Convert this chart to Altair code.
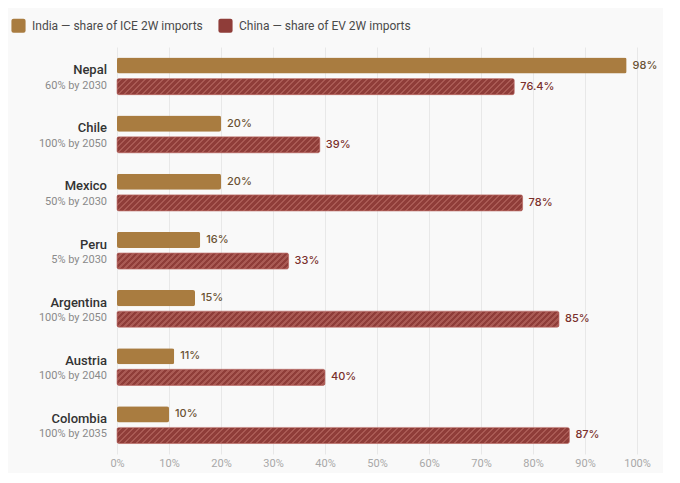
import altair as alt
import pandas as pd

# ---- data ----
countries = ["Nepal", "Chile", "Mexico", "Peru", "Argentina", "Austria", "Colombia"]
targets = ["60% by 2030", "100% by 2050", "50% by 2030", "5% by 2030",
           "100% by 2050", "100% by 2040", "100% by 2035"]
india_share = [98, 20, 20, 16, 15, 11, 10]
china_share = [76.4, 39, 78, 33, 85, 40, 87]
india_labels = ["98%", "20%", "20%", "16%", "15%", "11%", "10%"]
china_labels = ["76.4%", "39%", "78%", "33%", "85%", "40%", "87%"]
x_ticks = [0, 10, 20, 30, 40, 50, 60, 70, 80, 90, 100]

INDIA = "India — share of ICE 2W imports"
CHINA = "China — share of EV 2W imports"

# ---- style ----
FONT = "Roboto"
VFONT = "Inter"
GOLD = "#a97c40"
RED = "#8f3d39"
RED_LIGHT = "#a95a54"
W, H = 520, 407
BAR_H = 16.1
PX_PER_UNIT = W / 100.0


def hatch(value, period=6.0, light=0.4):
    """Diagonal stripe fill built from a linear gradient (per bar)."""
    w = max(value * PX_PER_UNIT, 1.0)
    h = BAR_H
    total = w + h
    k = total / (w * (1 + (h / w) ** 2))
    stops = []
    pos = 0.0
    while pos < total:
        a = pos / total
        b = min((pos + period * (1 - light)) / total, 1.0)
        c = min((pos + period) / total, 1.0)
        stops += [{"offset": a, "color": RED}, {"offset": b, "color": RED},
                  {"offset": b, "color": RED_LIGHT}, {"offset": c, "color": RED_LIGHT}]
        pos += period
    return {"gradient": "linear", "x1": 0, "y1": 0, "x2": k, "y2": k * h / w,
            "stops": stops}


rows = []
for c, t, iv, cv, il, cl in zip(countries, targets, india_share, china_share,
                                india_labels, china_labels):
    rows.append({"country": c, "target": t, "series": INDIA, "value": iv, "label": il})
    rows.append({"country": c, "target": t, "series": CHINA, "value": cv, "label": cl})
df = pd.DataFrame(rows)
names = pd.DataFrame({"country": countries, "target": targets})

y_enc = alt.Y("country:N", sort=countries, axis=None,
              scale=alt.Scale(paddingInner=0.36, paddingOuter=0.18))
yoff = alt.YOffset("series:N", sort=[INDIA, CHINA],
                   scale=alt.Scale(domain=[INDIA, CHINA], paddingInner=0.237, paddingOuter=0))
x_enc = alt.X("value:Q",
              scale=alt.Scale(domain=[0, 100], nice=False),
              axis=alt.Axis(values=x_ticks, labelExpr="datum.value + '%'", title=None,
                            domain=False, ticks=False, labelPadding=3, labelFlush=False,
                            labelColor="#a8a8a8", labelFontSize=11, labelFont=FONT,
                            grid=True, gridColor="#e8e8e8", gridWidth=1))

base = alt.Chart(df)

bars = base.mark_bar(cornerRadius=2).encode(
    x=x_enc,
    y=y_enc,
    yOffset=yoff,
    color=alt.Color("series:N",
                    scale=alt.Scale(domain=[INDIA, CHINA], range=[GOLD, RED]),
                    legend=alt.Legend(
                        title=None, orient="none", legendX=-106, legendY=-29,
                        direction="horizontal", labelLimit=0,
                        symbolType="M-0.7,-1L0.7,-1Q1,-1 1,-0.7L1,0.7Q1,1 0.7,1L-0.7,1Q-1,1 -1,0.7L-1,-0.7Q-1,-1 -0.7,-1Z",
                        symbolSize=200, symbolStrokeWidth=0, symbolOpacity=1,
                        labelFont=FONT, labelFontSize=12, labelColor="#4a4a4a",
                        labelOffset=6, columnPadding=15)),
)

conds = [{"test": f"datum.country === '{c}'", "value": hatch(v)}
         for c, v in zip(countries, china_share)]
china_bars = base.transform_filter(alt.datum.series == CHINA).mark_bar(
    cornerRadius=2, stroke="#b86a64", strokeWidth=0.6
).encode(
    x="value:Q",
    y=y_enc,
    yOffset=yoff,
    fill={"condition": conds, "value": RED},
)

value_text = base.mark_text(align="left", baseline="middle", dx=6,
                            font=VFONT, fontSize=11, fontWeight=500).encode(
    x="value:Q",
    y=y_enc,
    yOffset=yoff,
    text="label:N",
    color=alt.condition(alt.datum.series == INDIA, alt.value("#6a5233"), alt.value("#7a302c")),
)

name_text = alt.Chart(names).mark_text(align="right", baseline="middle", dy=-6,
                                       font=FONT, fontSize=13, fontWeight=500,
                                       color="#333333").encode(
    y=y_enc, x=alt.value(-10), text="country:N")

target_text = alt.Chart(names).mark_text(align="right", baseline="middle", dy=9.5,
                                         font=FONT, fontSize=11, color="#8a8a8a").encode(
    y=y_enc, x=alt.value(-10), text="target:N")

chart = alt.layer(bars, china_bars, value_text, name_text, target_text).properties(
    width=W, height=H,
    background="#f9f9f9",
    padding={"left": 3, "top": 10, "right": 5, "bottom": 5},
).configure_view(stroke=None)

chart.save("out.html", embed_options={"renderer": "svg", "actions": False})
